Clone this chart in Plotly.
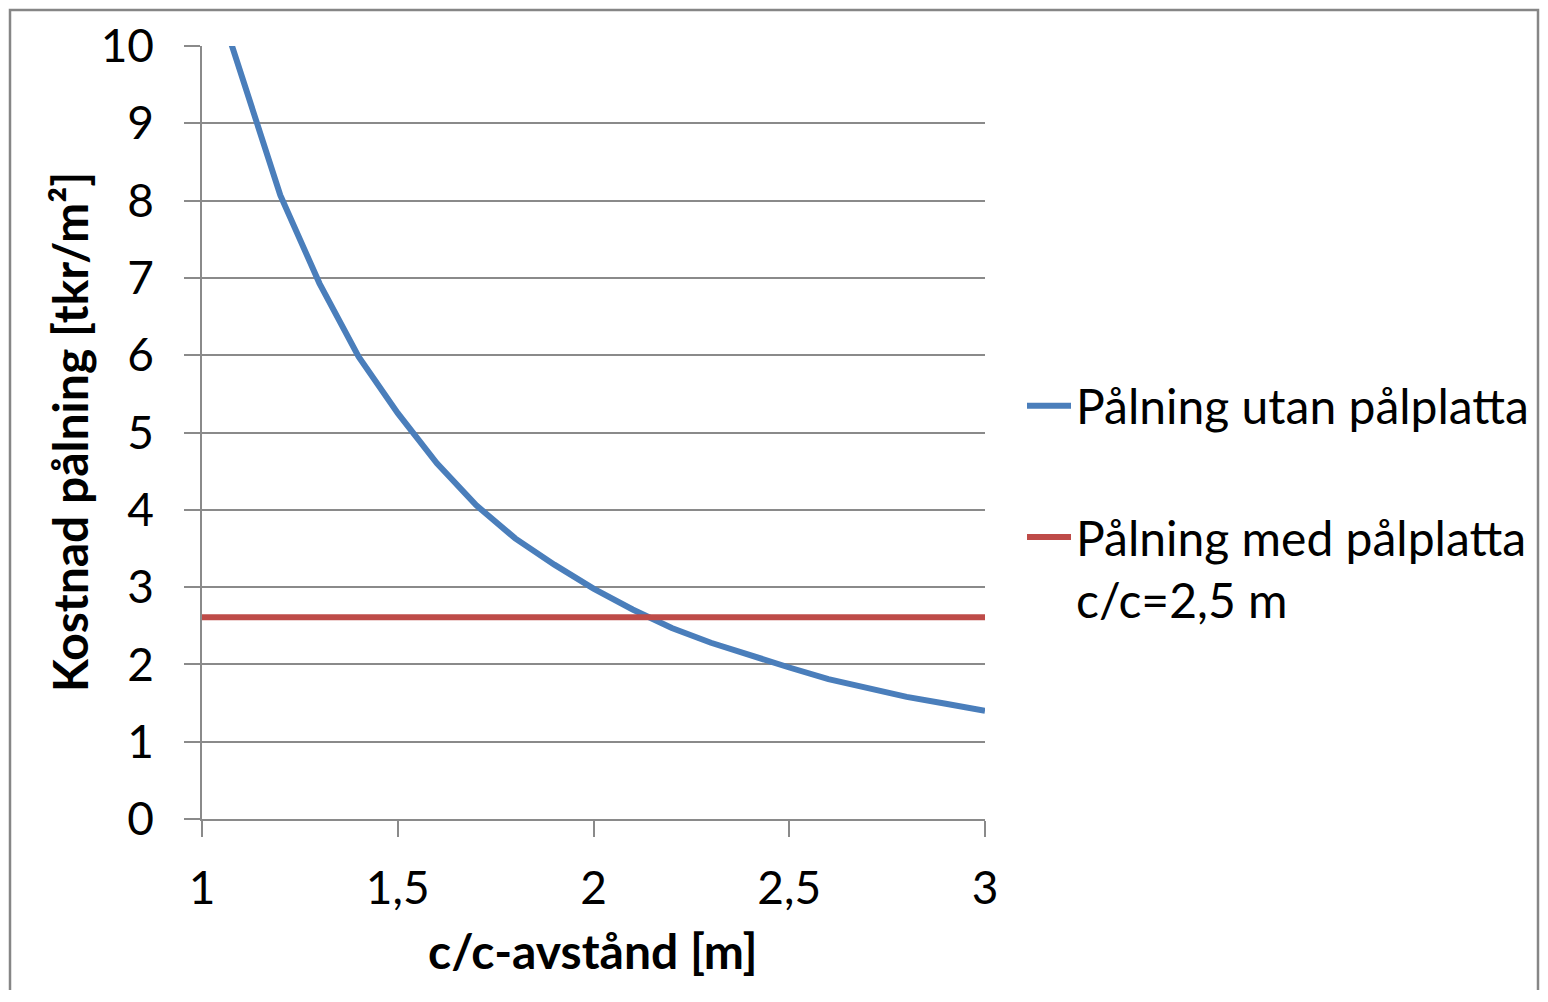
import plotly.graph_objects as go

# Data
cc_distance = [1.0, 1.1, 1.2, 1.3, 1.4, 1.5, 1.6, 1.7, 1.8, 1.9, 2.0,
               2.1, 2.2, 2.3, 2.4, 2.5, 2.6, 2.7, 2.8, 2.9, 3.0]
cost_without_cap = [11.2, 9.63, 8.07, 6.93, 5.98, 5.25, 4.6, 4.06, 3.63, 3.29, 2.98,
                    2.71, 2.47, 2.28, 2.11, 1.96, 1.81, 1.69, 1.58, 1.49, 1.40]
cap_x = [1.0, 3.0]
cost_with_cap = [2.61, 2.61]

name_without = "Pålning utan pålplatta"
name_with = "Pålning med pålplatta<br>c/c=2,5 m"
x_title = "c/c-avstånd [m]"
y_title = "Kostnad pålning [tkr/m²]"
x_ticks = [1, 1.5, 2, 2.5, 3]
x_ticklabels = ["1", "1,5", "2", "2,5", "3"]
y_ticks = list(range(0, 11))

FONT = "Lato"
GRID = "#8a8a8a"
OFF = 8  # page body margin

fig = go.Figure()
fig.add_trace(go.Scatter(x=cc_distance, y=cost_without_cap, mode="lines",
                         name=name_without, legendgroup="a",
                         line=dict(color="#4A7EBB", width=6)))
fig.add_trace(go.Scatter(x=cap_x, y=cost_with_cap, mode="lines",
                         name=name_with, legendgroup="b",
                         line=dict(color="#BE4B48", width=6)))

W, H = 1532, 982
# target pixel positions in the screenshot
PL, PR, PT, PB = 202, 985, 46, 819
ml, mt = PL - OFF, PT - OFF
pw, ph = PR - PL, PB - PT
mr = W - ml - pw
mb = H - mt - ph

def px(xp):
    return (xp - PL) / pw

def py(yp):
    return (PB - yp) / ph

fig.update_layout(
    width=W, height=H,
    margin=dict(l=ml, r=mr, t=mt, b=mb, autoexpand=False),
    paper_bgcolor="white", plot_bgcolor="white",
    font=dict(family=FONT, size=46, color="black"),
    showlegend=True,
    legend=dict(x=px(1022), y=py(368), xanchor="left", yanchor="top",
                traceorder="grouped", tracegroupgap=66, valign="top",
                itemwidth=44,
                font=dict(family=FONT, size=48, color="black"),
                bgcolor="rgba(0,0,0,0)"),
    xaxis=dict(range=[1, 3], tickvals=x_ticks, ticktext=x_ticklabels,
               showgrid=False, zeroline=False,
               showline=True, linecolor=GRID, linewidth=1.5,
               ticks="outside", ticklen=16, tickcolor=GRID, tickwidth=1.5,
               ticklabelstandoff=12,
               tickfont=dict(family=FONT, size=46, color="black")),
    yaxis=dict(range=[0, 10], tickvals=y_ticks,
               showgrid=True, gridcolor=GRID, gridwidth=1.5, zeroline=False,
               showline=True, linecolor=GRID, linewidth=1.5,
               ticks="outside", ticklen=16, tickcolor=GRID, tickwidth=1.5,
               ticklabelstandoff=21,
               tickfont=dict(family=FONT, size=46, color="black")),
    annotations=[
        dict(text="<b>" + x_title + "</b>", xref="paper", yref="paper",
             x=px(593), y=py(950), xanchor="center", yanchor="middle",
             showarrow=False, font=dict(family=FONT, size=48, color="black")),
        dict(text="<b>" + y_title + "</b>", xref="paper", yref="paper",
             x=px(69), y=py(432), xanchor="center", yanchor="middle",
             textangle=-90, showarrow=False,
             font=dict(family=FONT, size=48, color="black")),
    ],
    shapes=[
        dict(type="rect", xref="paper", yref="paper",
             x0=px(10), x1=px(1538), y0=py(1040), y1=py(10),
             line=dict(color="#868686", width=2.5), fillcolor="rgba(0,0,0,0)",
             layer="below"),
    ],
)

fig.write_html("out.html")
